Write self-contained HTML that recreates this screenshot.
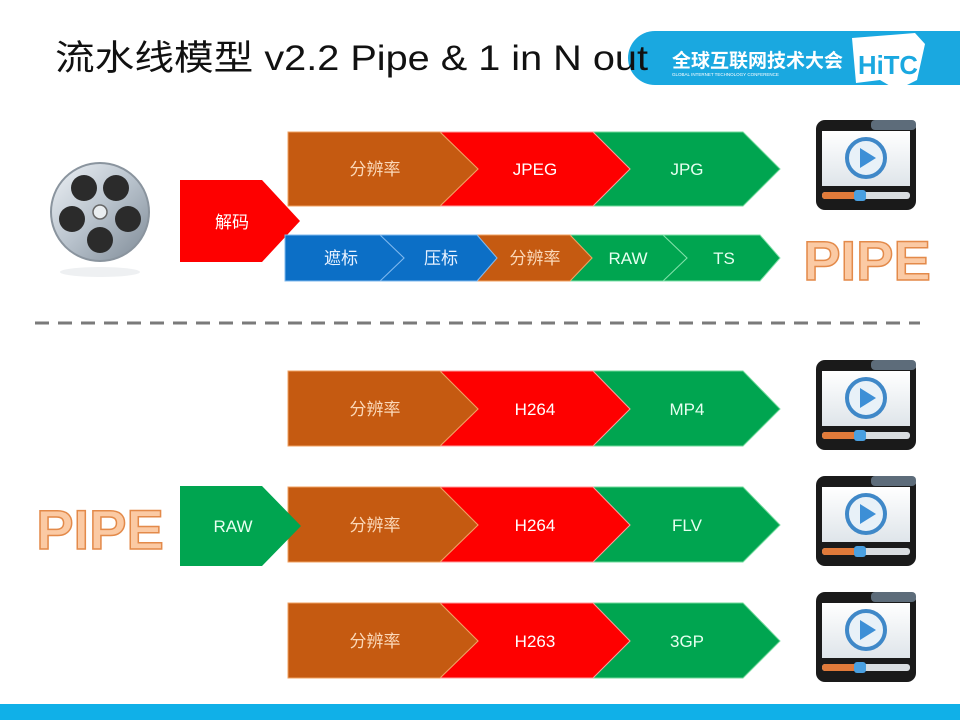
<!DOCTYPE html>
<html><head><meta charset="utf-8"><style>
html,body{margin:0;padding:0;background:#fff;width:960px;height:720px;overflow:hidden}
svg{display:block}
text{font-family:"Liberation Sans","Noto Sans CJK SC",sans-serif}
</style></head><body>
<svg width="960" height="720" viewBox="0 0 960 720" xmlns="http://www.w3.org/2000/svg">
<defs>
<linearGradient id="reel" x1="0" y1="0" x2="1" y2="1"><stop offset="0" stop-color="#eef2f6"/><stop offset="0.5" stop-color="#b8c2cc"/><stop offset="1" stop-color="#7e8a96"/></linearGradient>
<linearGradient id="scr" x1="0" y1="0" x2="0" y2="1"><stop offset="0" stop-color="#ffffff"/><stop offset="1" stop-color="#dfe5ea"/></linearGradient>
<g id="player">
<rect x="0" y="0" width="100" height="90" rx="9" fill="#1a1a1a"/>
<rect x="55" y="0" width="45" height="10" rx="4" fill="#5d6c7a"/>
<rect x="6" y="11" width="88" height="55" fill="url(#scr)"/>
<circle cx="50" cy="38" r="19" fill="#e8f1f8" stroke="#3f88c8" stroke-width="4"/>
<polygon points="44,28 44,48 60,38" fill="#3d8fd6"/>
<rect x="6" y="72" width="88" height="7" rx="3" fill="#d9dde0"/>
<rect x="6" y="72" width="38" height="7" rx="3" fill="#e07a3a"/>
<rect x="38" y="70" width="12" height="11" rx="3" fill="#4aa0e0"/>
</g>
</defs>
<!-- banner -->
<path d="M655,31 H960 V85 H655 A27,27 0 0 1 655,31 Z" fill="#1aa8e0"/>
<text x="672" y="67" font-size="19" fill="#fff" font-weight="bold">全球互联网技术大会</text>
<text x="672" y="76" font-size="4.5" fill="#fff">GLOBAL INTERNET TECHNOLOGY CONFERENCE</text>
<path d="M852,38 L915,33 L925,44 L917,80 L897,90 L880,80 L856,83 Z" fill="#fff"/>
<text x="888" y="74" font-size="26" fill="#1aa8e0" font-weight="bold" text-anchor="middle" textLength="60" lengthAdjust="spacingAndGlyphs">HiTC</text>
<!-- title -->
<text x="55" y="70" font-size="35" fill="#111" textLength="593" lengthAdjust="spacingAndGlyphs">流水线模型 v2.2 Pipe &amp; 1 in N out</text>

<!-- reel -->
<circle cx="100" cy="212" r="49" fill="url(#reel)" stroke="#8a949e" stroke-width="2"/>
<ellipse cx="100" cy="272" rx="40" ry="5" fill="#eef0f2"/>
<circle cx="84" cy="188" r="13" fill="#2b2b2b"/><circle cx="116" cy="188" r="13" fill="#2b2b2b"/>
<circle cx="72" cy="219" r="13" fill="#2b2b2b"/><circle cx="128" cy="219" r="13" fill="#2b2b2b"/>
<circle cx="100" cy="240" r="13" fill="#2b2b2b"/>
<circle cx="100" cy="212" r="7" fill="#e9edf0" stroke="#666" stroke-width="1.5"/>

<!-- 解码 -->
<polygon points="180,180 262,180 300,221 262,262 180,262" fill="#fe0000"/>
<text x="232" y="228" font-size="17" fill="#fff" text-anchor="middle">解码</text>

<!-- top row -->
<g>
<polygon points="593,132 743,132 780,169 743,206 593,206 630,169" fill="#00a550" stroke="#6fd99a" stroke-width="1"/>
<polygon points="440,132 593,132 630,169 593,206 440,206 478,169" fill="#fe0000" stroke="#ff9a9a" stroke-width="1"/>
<polygon points="288,132 440,132 478,169 440,206 288,206" fill="#c55a11" stroke="#f0a060" stroke-width="1"/>
<text x="375" y="175" font-size="17" fill="#fbd8b8" text-anchor="middle">分辨率</text>
<text x="535" y="175" font-size="17" fill="#fff" text-anchor="middle">JPEG</text>
<text x="687" y="175" font-size="17" fill="#e6fff0" text-anchor="middle">JPG</text>
</g>
<!-- second row -->
<g font-size="17">
<polygon points="663,235 760,235 780,258 760,281 663,281 687,258" fill="#00a550" stroke="#7fe0a8"/>
<polygon points="570,235 663,235 687,258 663,281 570,281 592,258" fill="#00a550" stroke="#7fe0a8"/>
<polygon points="477,235 570,235 592,258 570,281 477,281 497,258" fill="#c55a11" stroke="#f0a060"/>
<polygon points="380,235 477,235 497,258 477,281 380,281 404,258" fill="#0c6fc6" stroke="#7fb8ee"/>
<polygon points="285,235 380,235 404,258 380,281 285,281" fill="#0c6fc6" stroke="#7fb8ee"/>
<text x="341" y="264" fill="#e8f2ff" text-anchor="middle">遮标</text>
<text x="441" y="264" fill="#e8f2ff" text-anchor="middle">压标</text>
<text x="535" y="264" fill="#fbd8b8" text-anchor="middle">分辨率</text>
<text x="628" y="264" fill="#e6fff0" text-anchor="middle">RAW</text>
<text x="724" y="264" fill="#e6fff0" text-anchor="middle">TS</text>
</g>

<!-- PIPE right -->
<text x="867" y="280" font-size="56" font-weight="bold" fill="#fbcaa4" stroke="#e38a4a" stroke-width="1.5" text-anchor="middle">PIPE</text>

<!-- dashed -->
<line x1="35" y1="323" x2="920" y2="323" stroke="#7a7a7a" stroke-width="3" stroke-dasharray="14,9"/>

<!-- bottom rows -->
<g id="r1">
<polygon points="593,371 743,371 780,409 743,446 593,446 630,409" fill="#00a550" stroke="#6fd99a"/>
<polygon points="440,371 593,371 630,409 593,446 440,446 478,409" fill="#fe0000" stroke="#ff9a9a"/>
<polygon points="288,371 440,371 478,409 440,446 288,446" fill="#c55a11" stroke="#f0a060"/>
</g>
<text x="375" y="415" font-size="17" fill="#fbd8b8" text-anchor="middle">分辨率</text>
<text x="535" y="415" font-size="17" fill="#fff" text-anchor="middle">H264</text>
<text x="687" y="415" font-size="17" fill="#e6fff0" text-anchor="middle">MP4</text>

<use href="#r1" transform="translate(0,116)"/>
<text x="375" y="531" font-size="17" fill="#fbd8b8" text-anchor="middle">分辨率</text>
<text x="535" y="531" font-size="17" fill="#fff" text-anchor="middle">H264</text>
<text x="687" y="531" font-size="17" fill="#e6fff0" text-anchor="middle">FLV</text>

<use href="#r1" transform="translate(0,232)"/>
<text x="375" y="647" font-size="17" fill="#fbd8b8" text-anchor="middle">分辨率</text>
<text x="535" y="647" font-size="17" fill="#fff" text-anchor="middle">H263</text>
<text x="687" y="647" font-size="17" fill="#e6fff0" text-anchor="middle">3GP</text>

<!-- RAW input -->
<polygon points="180,486 262,486 301,526 262,566 180,566" fill="#00a550"/>
<text x="233" y="532" font-size="17" fill="#e6fff0" text-anchor="middle">RAW</text>

<!-- PIPE left -->
<text x="100" y="549" font-size="56" font-weight="bold" fill="#fbcaa4" stroke="#e38a4a" stroke-width="1.5" text-anchor="middle">PIPE</text>

<!-- players -->
<use href="#player" transform="translate(816,120)"/>
<use href="#player" transform="translate(816,360)"/>
<use href="#player" transform="translate(816,476)"/>
<use href="#player" transform="translate(816,592)"/>

<!-- bottom bar -->
<rect x="0" y="704" width="960" height="16" fill="#10b0e8"/>
</svg>
</body></html>
